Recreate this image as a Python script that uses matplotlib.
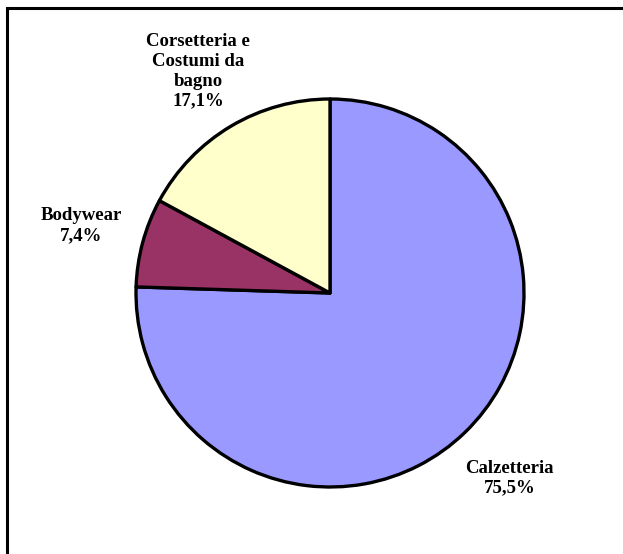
import numpy as np
import matplotlib
matplotlib.use("Agg")
import matplotlib.pyplot as plt
from matplotlib.patches import Rectangle

# market share by product segment
labels = ["Calzetteria", "Bodywear", "Corsetteria e\nCostumi da\nbagno"]
shares = [75.5, 7.4, 17.1]
colors = ["#9999FF", "#993366", "#FFFFCC"]

W, H = 623, 554
cx, cy, rad = 330, 293, 194  # pie centre and radius, pixels

fig = plt.figure(figsize=(W / 100, H / 100), dpi=100)
fig.patch.set_facecolor("white")
ax = fig.add_axes([0, 0, 1, 1])

wedges, _ = ax.pie(shares, colors=colors, startangle=90, counterclock=False,
                   radius=1.0, wedgeprops=dict(edgecolor="black", linewidth=2.4))
for w in wedges:
    w.set_joinstyle("round")

# pie() resets the limits, so set them afterwards
ax.set_aspect("auto")
ax.set_xlim(-cx / rad, (W - cx) / rad)
ax.set_ylim(-(H - cy) / rad, cy / rad)
ax.axis("off")

for w, lab, val in zip(wedges, labels, shares):
    mid = np.deg2rad((w.theta1 + w.theta2) / 2)
    x, y = 1.33 * np.cos(mid), 1.33 * np.sin(mid)
    txt = f"{lab}\n{val:.1f}%".replace(".", ",")
    ax.text(x, y, txt, ha="center", va="center", fontsize=13.5,
            fontweight="bold", family="Liberation Serif", linespacing=1.22)

# chart frame (open towards right and bottom)
fig.patches.append(Rectangle((7 / W, -0.05), 1.1, 1 - 8 / H + 0.05,
                             transform=fig.transFigure, fill=False,
                             edgecolor="black", linewidth=2.2))

fig.savefig("out.png", dpi=100)
plt.close(fig)
